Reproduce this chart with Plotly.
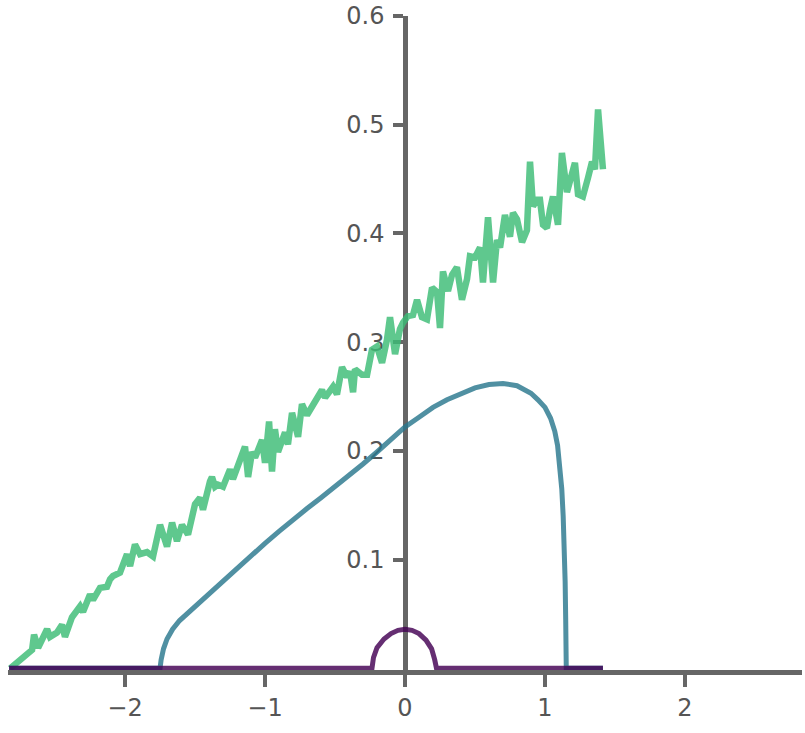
import plotly.graph_objects as go

# ---------------------------
# Data
# ---------------------------
green_x = [-2.821, -2.764, -2.714, -2.664, -2.650, -2.621, -2.557, -2.536, -2.486, -2.450,
           -2.429, -2.379, -2.321, -2.300, -2.250, -2.229, -2.179, -2.129, -2.107, -2.086,
           -2.036, -1.986, -1.964, -1.929, -1.893, -1.843, -1.800, -1.750, -1.700, -1.664,
           -1.629, -1.593, -1.550, -1.500, -1.464, -1.443, -1.393, -1.379, -1.357, -1.336,
           -1.300, -1.250, -1.229, -1.193, -1.143, -1.121, -1.093, -1.071, -1.021, -1.000,
           -0.971, -0.950, -0.929, -0.907, -0.857, -0.836, -0.807, -0.764, -0.736, -0.700,
           -0.650, -0.593, -0.571, -0.514, -0.486, -0.450, -0.414, -0.393, -0.371, -0.357,
           -0.307, -0.271, -0.236, -0.200, -0.164, -0.129, -0.107, -0.071, -0.036, -0.014,
           0.021, 0.057, 0.086, 0.121, 0.157, 0.193, 0.229, 0.250, 0.271, 0.307,
           0.336, 0.371, 0.407, 0.443, 0.464, 0.500, 0.536, 0.557, 0.593, 0.629,
           0.657, 0.679, 0.714, 0.750, 0.771, 0.800, 0.836, 0.871, 0.893, 0.914,
           0.943, 0.964, 0.986, 1.014, 1.036, 1.057, 1.093, 1.121, 1.157, 1.179,
           1.214, 1.236, 1.271, 1.307, 1.336, 1.357, 1.379, 1.414]
green_y = [0.000, 0.006, 0.013, 0.017, 0.031, 0.019, 0.036, 0.029, 0.033, 0.040,
           0.029, 0.047, 0.057, 0.052, 0.068, 0.063, 0.074, 0.075, 0.082, 0.085,
           0.088, 0.105, 0.094, 0.114, 0.105, 0.107, 0.103, 0.132, 0.112, 0.134,
           0.117, 0.132, 0.123, 0.151, 0.157, 0.146, 0.172, 0.176, 0.167, 0.169,
           0.167, 0.183, 0.174, 0.186, 0.204, 0.176, 0.199, 0.194, 0.210, 0.189,
           0.227, 0.181, 0.220, 0.199, 0.217, 0.206, 0.235, 0.213, 0.243, 0.233,
           0.245, 0.256, 0.249, 0.259, 0.252, 0.277, 0.268, 0.273, 0.254, 0.275,
           0.270, 0.270, 0.293, 0.296, 0.281, 0.302, 0.323, 0.289, 0.312, 0.318,
           0.324, 0.325, 0.339, 0.323, 0.321, 0.350, 0.346, 0.313, 0.365, 0.347,
           0.362, 0.369, 0.339, 0.358, 0.379, 0.378, 0.387, 0.355, 0.415, 0.355,
           0.394, 0.387, 0.417, 0.397, 0.419, 0.413, 0.392, 0.403, 0.466, 0.425,
           0.431, 0.431, 0.408, 0.405, 0.422, 0.434, 0.408, 0.474, 0.438, 0.451,
           0.465, 0.436, 0.434, 0.451, 0.466, 0.459, 0.514, 0.459]

teal_x = [-2.828, -1.750, -1.742, -1.725, -1.700, -1.660, -1.610, -1.550, -1.500, -1.450,
          -1.400, -1.300, -1.200, -1.100, -1.000, -0.900, -0.800, -0.700, -0.600, -0.500,
          -0.400, -0.300, -0.200, -0.100, 0.000, 0.100, 0.200, 0.300, 0.400, 0.500,
          0.600, 0.700, 0.800, 0.850, 0.900, 0.950, 1.000, 1.040, 1.070, 1.090,
          1.107, 1.120, 1.130, 1.138, 1.144, 1.148, 1.152, 1.414]
teal_y = [0.000, 0.000, 0.008, 0.018, 0.027, 0.036, 0.044, 0.051, 0.057, 0.063,
          0.069, 0.081, 0.093, 0.104, 0.115, 0.126, 0.137, 0.147, 0.157, 0.167,
          0.177, 0.188, 0.199, 0.211, 0.222, 0.231, 0.240, 0.247, 0.253, 0.258,
          0.261, 0.262, 0.260, 0.257, 0.253, 0.247, 0.240, 0.230, 0.218, 0.205,
          0.186, 0.165, 0.140, 0.112, 0.080, 0.045, 0.000, 0.000]

purple_x = [-2.828, -0.236, -0.225, -0.200, -0.150, -0.100, -0.050, 0.000, 0.050, 0.100,
            0.150, 0.190, 0.212, 0.225, 1.414]
purple_y = [0.000, 0.000, 0.010, 0.019, 0.027, 0.032, 0.035, 0.036, 0.035, 0.032,
            0.026, 0.018, 0.008, 0.000, 0.000]

x_ticks = [-2, -1, 0, 1, 2]
y_ticks = [0.1, 0.2, 0.3, 0.4, 0.5, 0.6]

# ---------------------------
# Figure
# ---------------------------
fig = go.Figure()
fig.add_trace(go.Scatter(x=green_x, y=green_y, mode="lines",
                         line=dict(color="rgb(60,189,118)", width=6.5), opacity=0.82))
fig.add_trace(go.Scatter(x=teal_x, y=teal_y, mode="lines",
                         line=dict(color="rgb(42,120,142)", width=5), opacity=0.82))
fig.add_trace(go.Scatter(x=purple_x, y=purple_y, mode="lines",
                         line=dict(color="rgb(68,1,84)", width=5), opacity=0.82))

axis_col = "#666666"
fig.update_layout(
    width=805, height=733,
    margin=dict(l=8, r=3, t=16, b=63),
    plot_bgcolor="white", paper_bgcolor="white",
    showlegend=False,
    font=dict(family="DejaVu Sans", size=24, color="#555555"),
    xaxis=dict(range=[-2.836, 2.836], tickvals=x_ticks, showgrid=False, zeroline=False,
               showline=True, linecolor=axis_col, linewidth=4.5,
               ticks="outside", ticklen=12, tickwidth=3.5, tickcolor=axis_col,
               layer="below traces", automargin=False),
    yaxis=dict(range=[-0.0015, 0.6], tickvals=y_ticks, showgrid=False, zeroline=False,
               showline=True, linecolor=axis_col, linewidth=4.5,
               ticks="outside", ticklen=10, tickwidth=3.5, tickcolor=axis_col,
               ticklabelstandoff=4,
               anchor="free", position=0.5, layer="below traces", automargin=False),
)

# drop the browser's default 8px body margin so the figure sits at the page corner
fig.write_html("out.html", config={"displayModeBar": False},
               post_script="document.body.style.margin='0';")
